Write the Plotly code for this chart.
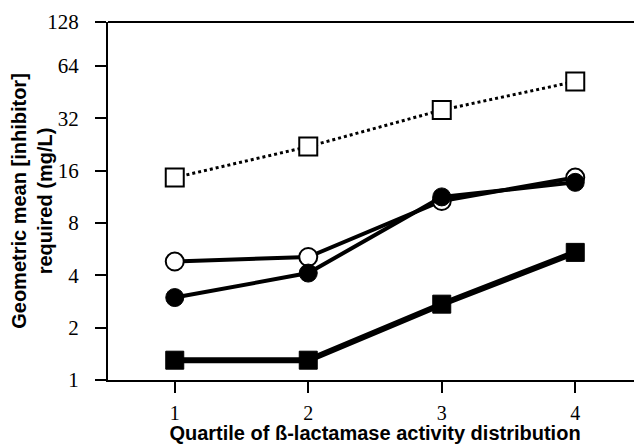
import math
import plotly.graph_objects as go

quartiles = [1, 2, 3, 4]
open_squares = [14.6, 22.0, 35.7, 52.1]
open_circles = [4.8, 5.1, 10.7, 14.6]
filled_circles = [2.98, 4.12, 11.3, 13.7]
filled_squares = [1.30, 1.30, 2.73, 5.42]

y_tick_vals = [1, 2, 4, 8, 16, 32, 64]
y_tick_text = ["1", "2", "4", "8", "16", "32", "64"]
y_top_log2 = 6.84
top_label = "128"

fig = go.Figure()

fig.add_trace(go.Scatter(
    x=quartiles, y=open_squares, mode="lines+markers",
    line=dict(color="black", width=3, dash="dot"),
    marker=dict(symbol="square", size=18, color="white", line=dict(color="black", width=2)),
    showlegend=False))
fig.add_trace(go.Scatter(
    x=quartiles, y=open_circles, mode="lines+markers",
    line=dict(color="black", width=4),
    marker=dict(symbol="circle", size=18, color="white", line=dict(color="black", width=2)),
    showlegend=False))
fig.add_trace(go.Scatter(
    x=quartiles, y=filled_circles, mode="lines+markers",
    line=dict(color="black", width=4),
    marker=dict(symbol="circle", size=18, color="black", line=dict(color="black", width=1)),
    showlegend=False))
fig.add_trace(go.Scatter(
    x=quartiles, y=filled_squares, mode="lines+markers",
    line=dict(color="black", width=6),
    marker=dict(symbol="square", size=18, color="black", line=dict(color="black", width=1)),
    showlegend=False))

fig.update_layout(
    width=634, height=436,
    margin=dict(l=100, r=0, t=14, b=64, autoexpand=False),
    paper_bgcolor="white", plot_bgcolor="white",
    xaxis=dict(
        range=[0.5, 4.5], tickvals=quartiles, ticktext=[str(q) for q in quartiles],
        showgrid=False, zeroline=False, showline=True, linecolor="black", linewidth=2,
        ticks="outside", ticklen=11, tickwidth=2, tickcolor="black",
        tickfont=dict(family="Liberation Serif", size=20, color="black"),
        ticklabelstandoff=3,
        title=dict(text="<b>Quartile of ß-lactamase activity distribution</b>",
                   font=dict(family="Liberation Sans", size=20, color="black"), standoff=2),
    ),
    yaxis=dict(
        type="log", range=[0, y_top_log2 * math.log10(2)],
        tickvals=y_tick_vals + [2 ** y_top_log2], ticktext=y_tick_text + [top_label],
        showgrid=False, zeroline=False, showline=True, linecolor="black", linewidth=2,
        ticks="outside", ticklen=11, tickwidth=2, tickcolor="black",
        tickfont=dict(family="Liberation Serif", size=21, color="black"),
        ticklabelstandoff=12,
        title=dict(text="<b>Geometric mean [inhibitor]<br>required (mg/L)</b>",
                   font=dict(family="Liberation Sans", size=20, color="black"), standoff=6),
    ),
    shapes=[dict(type="line", xref="paper", yref="paper", x0=0, x1=1, y0=1, y1=1,
                 line=dict(color="black", width=2))],
)

fig.write_html("out.html")
